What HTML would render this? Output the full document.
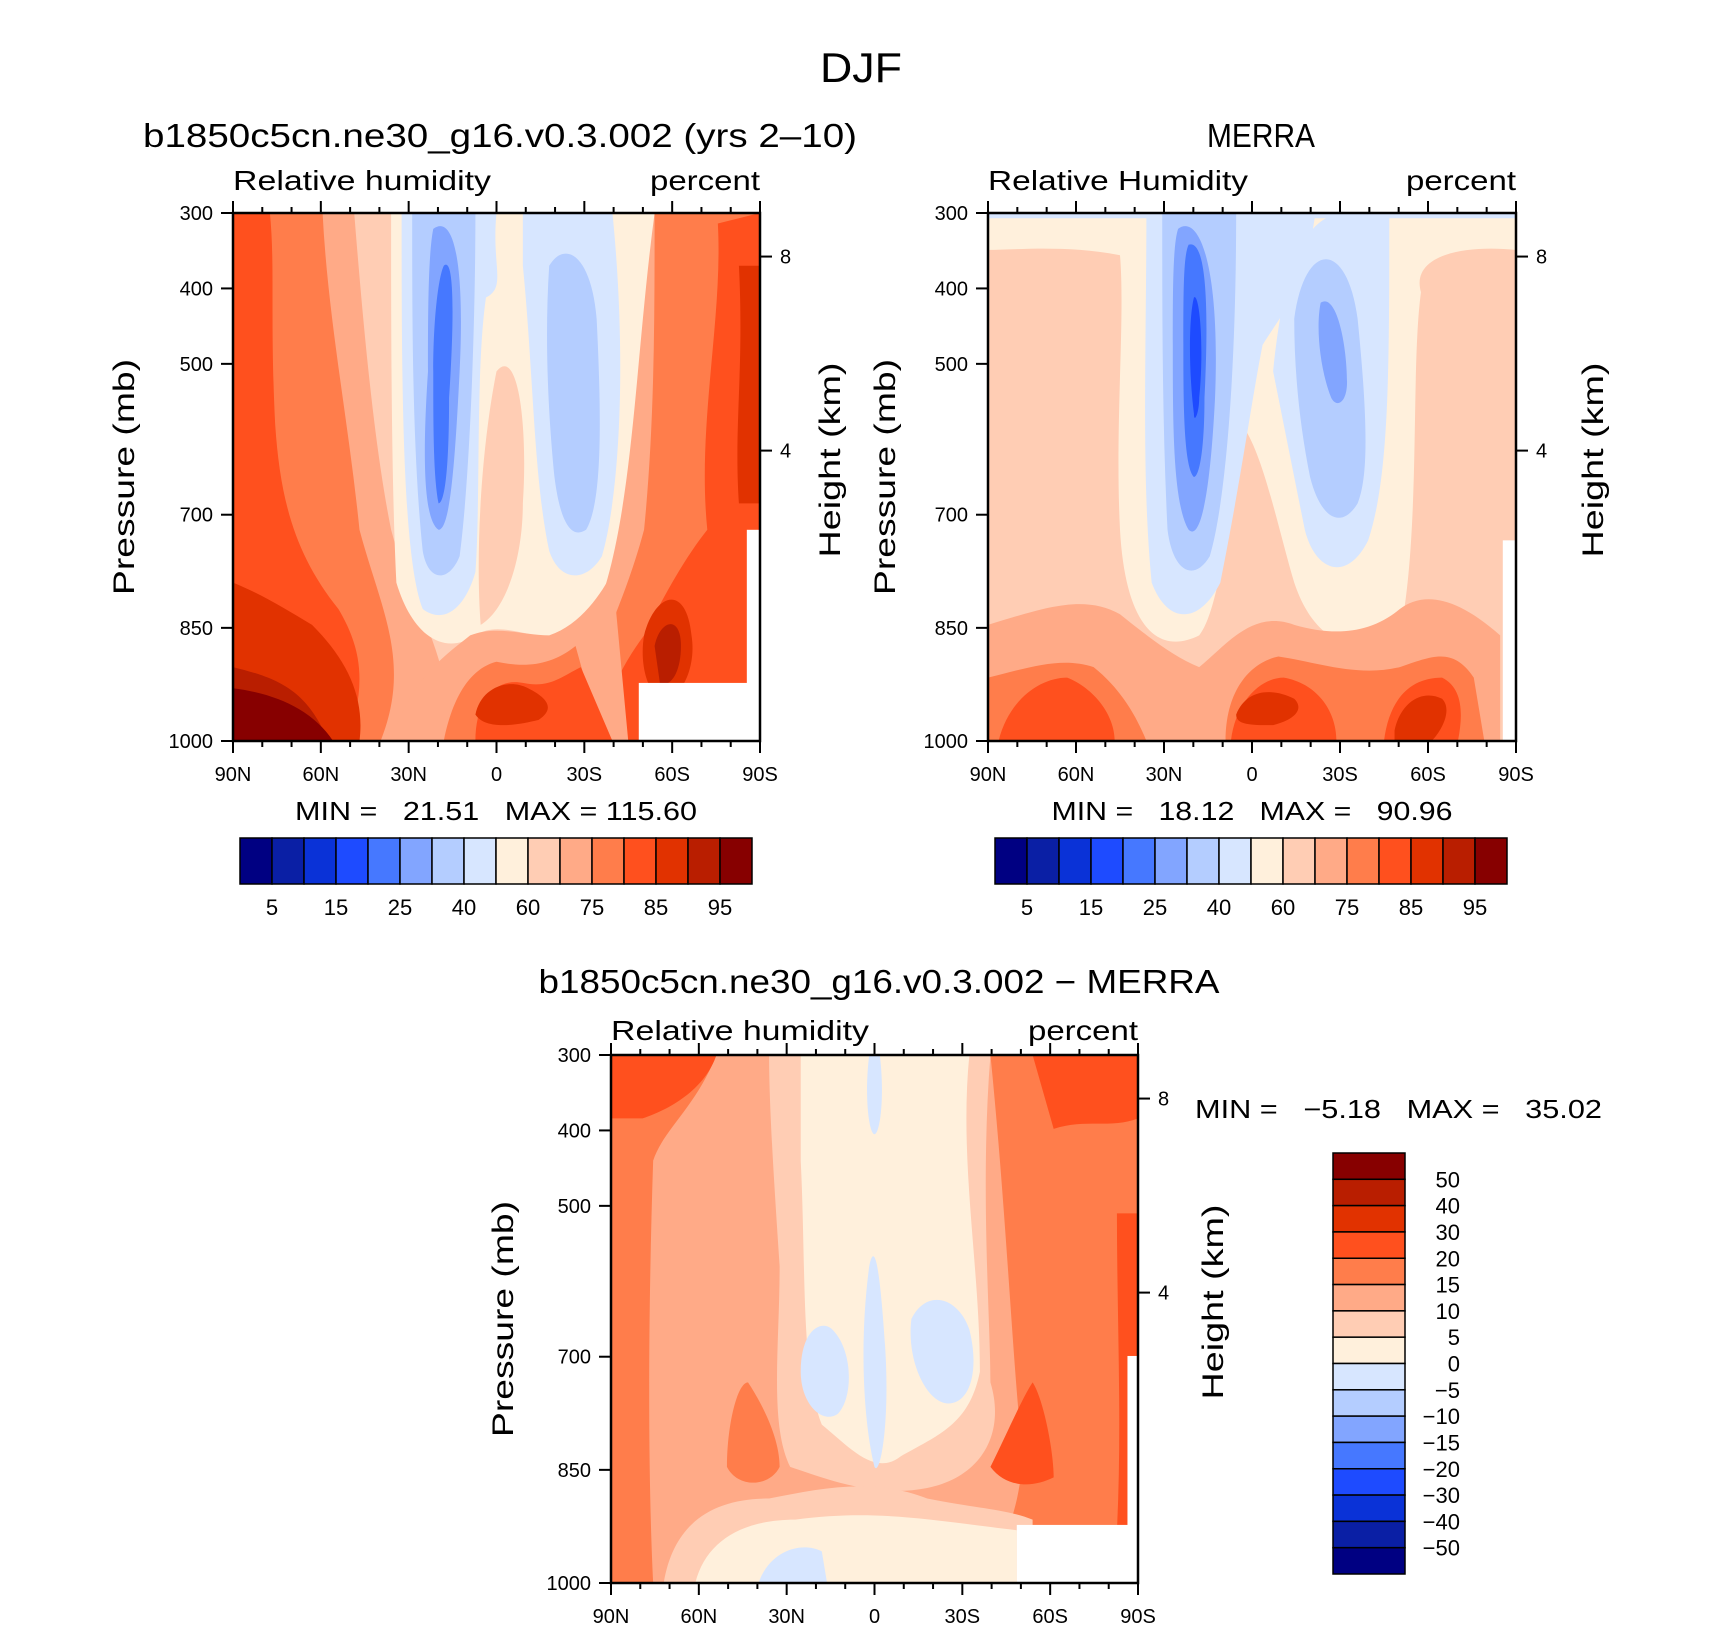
<!DOCTYPE html>
<html><head><meta charset="utf-8"><style>
html,body{margin:0;padding:0;background:#fff}
svg text{font-family:"Liberation Sans",sans-serif;fill:#000}
</style></head><body>
<svg id="root" xmlns="http://www.w3.org/2000/svg" width="1710" height="1631" viewBox="0 0 1710 1631">
<rect width="1710" height="1631" fill="#fff"/>
<text x="861" y="82" font-size="42" text-anchor="middle" textLength="82" lengthAdjust="spacingAndGlyphs">DJF</text>

<!-- Panel 1 -->
<text x="500" y="147" font-size="33" text-anchor="middle" textLength="714" lengthAdjust="spacingAndGlyphs">b1850c5cn.ne30_g16.v0.3.002 (yrs 2–10)</text>
<text x="233" y="190" font-size="28" textLength="258" lengthAdjust="spacingAndGlyphs">Relative humidity</text>
<text x="650" y="190" font-size="28" textLength="110" lengthAdjust="spacingAndGlyphs">percent</text>
<svg x="233" y="213" width="527" height="528" viewBox="0 0 100 100" preserveAspectRatio="none">
<rect width="100" height="100" fill="#ffcdb4"/>
<path fill="#ffaa87" d="M0,0 L23,0 C25,25 27,45 30,60 C34,75 40,80 42,100 L0,100Z"/>
<path fill="#ff7d4b" d="M0,0 L17,0 C18,20 22,40 24,60 C28,75 34,85 28,100 L0,100Z"/>
<path fill="#ff501e" d="M0,0 L7,0 C8,10 7,20 8,40 C9,55 12,65 20,75 C26,85 24,92 22,100 L0,100Z"/>
<path fill="#e13200" d="M0,70 C5,72 10,75 15,78 C22,85 25,92 24,100 L0,100Z"/>
<path fill="#b91e00" d="M0,86 C8,88 14,90 18,100 L0,100Z"/>
<path fill="#870000" d="M0,90 C8,91 15,94 19,100 L0,100Z"/>
<path fill="#ffaa87" d="M74,0 L100,0 L100,100 L60,100 C62,85 68,75 72,60 C75,40 75,20 74,0Z"/>
<path fill="#ff7d4b" d="M80,0 L100,0 L100,100 L64,100 C68,85 74,75 78,60 C80,40 80,20 80,0Z"/>
<path fill="#ff501e" d="M92,2 C93,20 88,40 90,60 C86,65 82,72 78,80 C72,88 70,95 70,100 L100,100 L100,0Z"/>
<path fill="#e13200" d="M96,10 L100,10 L100,55 L96,55 C95,40 97,30 96,10Z M78,80 C80,72 86,70 87,80 C88,86 85,92 82,92 C79,92 77,86 78,80Z"/>
<path fill="#b91e00" d="M80,82 C81,77 85,76 85,82 C85,87 83,90 81,89Z"/>
<path fill="#fff0dc" d="M30,0 L80,0 C76,30 76,60 68,78 C60,84 52,76 46,80 C40,84 34,80 31,70 C30,50 30,20 30,0Z"/>
<path fill="#ffcdb4" d="M50,30 C54,25 56,40 55,55 C55,65 52,75 47,78 C46,65 47,45 50,30Z"/>
<path fill="#d7e6ff" d="M32,0 L50,0 C49,10 52,14 48,16 C46,30 47,55 46,68 C44,75 40,78 36,75 C32,65 32,30 32,0Z M55,0 L72,0 C75,30 73,55 70,65 C67,70 62,70 60,64 C57,50 57,30 55,10Z"/>
<path fill="#b4cdff" d="M34,0 L46,0 C46,20 45,50 43,65 C41,70 37,70 36,64 C34,45 34,20 34,0Z M60,10 C63,5 68,8 69,20 C70,40 70,55 67,60 C64,62 62,58 61,50 C60,40 59,25 60,10Z"/>
<path fill="#82a5ff" d="M38,3 C42,0 44,10 43,30 C42,50 41,60 39,60 C36,58 36,45 37,30 C37,20 37,8 38,3Z"/>
<path fill="#4678ff" d="M40,10 C42,8 42,20 41,35 C41,50 40,55 39,55 C38,50 38,40 38,30 C38,20 39,12 40,10Z"/>
<path fill="#ffaa87" d="M30,100 C34,88 40,84 45,80 C50,78 55,80 60,80 C66,78 70,72 72,68 L75,100Z"/>
<path fill="#ff7d4b" d="M40,100 C42,90 46,86 50,85 C55,86 60,86 65,82 L70,100Z"/>
<path fill="#ff501e" d="M46,100 C46,92 50,88 55,89 C60,90 62,88 66,86 L72,100Z"/>
<path fill="#e13200" d="M46,95 C47,90 52,88 56,90 C60,92 61,94 58,96 C54,97 48,98 46,95Z"/>
<rect x="77" y="89" width="23" height="11" fill="#fff"/>
<rect x="97.5" y="60" width="2.5" height="40" fill="#fff"/>
</svg>

<!-- Panel 2 -->
<text x="1261" y="147" font-size="33" text-anchor="middle" textLength="108" lengthAdjust="spacingAndGlyphs">MERRA</text>
<text x="988" y="190" font-size="28" textLength="260" lengthAdjust="spacingAndGlyphs">Relative Humidity</text>
<text x="1406" y="190" font-size="28" textLength="110" lengthAdjust="spacingAndGlyphs">percent</text>
<svg x="988" y="213" width="528" height="528" viewBox="0 0 100 100" preserveAspectRatio="none">
<rect width="100" height="100" fill="#ffcdb4"/>
<path fill="#fff0dc" d="M0,0 L100,0 L100,7 C90,6 80,8 82,15 C80,30 82,60 78,80 C70,84 62,82 58,70 C55,60 52,45 48,40 C46,55 44,75 40,80 C32,84 26,78 25,60 C24,40 26,20 25,8 C15,6 5,7 0,7Z"/>
<path fill="#d7e6ff" d="M0,0 L100,0 L100,1 L0,1Z M30,0 L62,0 C60,15 55,20 52,25 C50,35 48,50 44,70 C40,78 34,78 31,70 C29,50 30,25 30,0Z M54,30 C56,10 60,0 68,0 L76,0 C76,30 76,50 72,62 C68,70 62,68 60,60 C58,50 56,40 54,30Z"/>
<path fill="#b4cdff" d="M33,0 L47,0 C47,30 45,55 42,65 C39,70 35,68 34,60 C33,40 33,20 33,0Z M58,20 C60,5 68,5 70,20 C72,40 72,50 70,55 C67,60 63,58 61,50 C59,40 58,30 58,20Z"/>
<path fill="#82a5ff" d="M36,3 C40,0 44,10 43,35 C42,55 40,62 38,60 C35,55 35,40 35,25 C35,15 35,6 36,3Z M63,17 C66,15 68,25 68,32 C68,36 66,37 65,35 C63,30 62,22 63,17Z"/>
<path fill="#4678ff" d="M38,6 C41,5 42,15 41,35 C41,45 40,50 39,50 C37,48 37,35 37,25 C37,15 37,8 38,6Z"/>
<path fill="#1e4bff" d="M39,16 C40,15 41,25 40,35 C40,38 39,40 39,38 C38,30 38,20 39,16Z"/>
<path fill="#ffaa87" d="M0,78 C10,75 18,72 25,76 C30,80 35,84 40,86 C45,82 50,75 58,78 C65,80 72,80 78,75 C82,72 88,72 97,80 L97,100 L0,100Z"/>
<path fill="#ff7d4b" d="M0,88 C8,86 14,84 20,86 C25,90 28,95 30,100 L0,100Z M45,100 C45,90 50,85 55,84 C62,85 70,88 78,86 C84,84 88,82 92,88 L94,100Z"/>
<path fill="#ff501e" d="M2,100 C4,92 10,88 15,88 C20,90 24,95 24,100Z M46,100 C47,92 52,88 56,88 C62,89 66,94 66,100Z M75,100 C76,92 80,88 86,88 C90,90 90,95 89,100Z"/>
<path fill="#e13200" d="M47,95 C49,90 54,90 58,92 C60,94 58,96 54,97 C50,97 47,97 47,95Z M77,98 C78,93 82,90 86,92 C88,94 86,98 84,100 L77,100Z"/>
<rect x="97.5" y="62" width="2.5" height="38" fill="#fff"/>
</svg>

<!-- Panel 3 -->
<text x="879" y="993" font-size="33" text-anchor="middle" textLength="681" lengthAdjust="spacingAndGlyphs">b1850c5cn.ne30_g16.v0.3.002 − MERRA</text>
<text x="611" y="1040" font-size="28" textLength="258" lengthAdjust="spacingAndGlyphs">Relative humidity</text>
<text x="1028" y="1040" font-size="28" textLength="110" lengthAdjust="spacingAndGlyphs">percent</text>
<svg x="611" y="1055" width="527" height="528" viewBox="0 0 100 100" preserveAspectRatio="none">
<rect width="100" height="100" fill="#ffaa87"/>
<path fill="#ff7d4b" d="M0,0 L20,0 C16,10 10,14 8,20 C7,50 7,80 8,100 L0,100Z M22,78 C22,70 24,62 26,62 C28,65 32,72 32,78 C30,82 24,82 22,78Z"/>
<path fill="#ff501e" d="M0,0 L20,0 C18,6 12,10 6,12 L0,12Z"/>
<path fill="#ffcdb4" d="M30,0 L72,0 C70,25 72,50 72,62 C75,72 70,80 60,82 C50,84 40,80 34,78 C30,70 32,55 32,40 C31,25 30,10 30,0Z"/>
<path fill="#fff0dc" d="M36,0 L68,0 C66,20 70,40 70,60 C68,70 62,72 55,76 C50,80 45,74 40,70 C36,60 37,40 36,20Z"/>
<path fill="#d7e6ff" d="M36,60 C36,52 40,50 42,52 C46,56 46,65 43,68 C40,70 36,66 36,60Z M57,50 C60,44 66,46 68,52 C70,60 68,66 64,66 C60,66 56,58 57,50Z M49,0 L51,0 C52,8 51,15 50,15 C49,15 48,8 49,0Z M49,40 C50,35 51,40 52,55 C53,70 51,80 50,78 C48,70 47,55 49,40Z"/>
<path fill="#ff7d4b" d="M72,0 L100,0 L100,100 L72,100 C75,90 78,85 78,75 C76,55 75,30 72,0Z"/>
<path fill="#ff501e" d="M80,0 L100,0 L100,12 C95,14 90,12 84,14Z M72,78 C75,72 78,65 80,62 C82,65 84,75 84,80 C80,82 75,82 72,78Z M96,30 L100,30 L100,90 L96,90 C97,70 96,50 96,30Z"/>
<path fill="#ffcdb4" d="M10,100 C12,88 20,84 30,84 C40,82 50,80 60,84 C70,86 75,86 80,88 L80,100Z"/>
<path fill="#fff0dc" d="M16,100 C18,92 25,88 35,88 C50,86 60,88 77,90 L77,100Z"/>
<path fill="#d7e6ff" d="M28,100 C30,94 36,92 40,94 L41,100Z"/>
<rect x="77" y="89" width="23" height="11" fill="#fff"/>
<rect x="98" y="57" width="2" height="43" fill="#fff"/>
</svg>
<text x="1195" y="1118" font-size="26" textLength="407" lengthAdjust="spacingAndGlyphs" xml:space="preserve">MIN =   −5.18   MAX =   35.02</text>
<text x="496" y="820" font-size="26" text-anchor="middle" textLength="402" lengthAdjust="spacingAndGlyphs" xml:space="preserve">MIN =   21.51   MAX = 115.60</text>
<text x="1252" y="820" font-size="26" text-anchor="middle" textLength="401" lengthAdjust="spacingAndGlyphs" xml:space="preserve">MIN =   18.12   MAX =   90.96</text>
<g id="axes"></g>
</svg>
<script>
const latLabels = ["90N","60N","30N","0","30S","60S","90S"];
const presLevels = [300,400,500,700,850,1000];
const heightTicks = [8,4];
const heightTickFrac = [0.0825,0.45];
const rhColors = ["#000082","#0a1fa5","#0a32d7","#1e4bff","#4678ff","#82a5ff","#b4cdff","#d7e6ff","#fff0dc","#ffcdb4","#ffaa87","#ff7d4b","#ff501e","#e13200","#b91e00","#870000"];
const rhLabels = ["5","15","25","40","60","75","85","95"];
const diffLabels = ["50","40","30","20","15","10","5","0","−5","−10","−15","−20","−30","−40","−50"];
const NS="http://www.w3.org/2000/svg";
const g=document.getElementById('axes');
function mk(tag,attrs,parent){const e=document.createElementNS(NS,tag);for(const k in attrs)e.setAttribute(k,attrs[k]);(parent||g).appendChild(e);return e;}
const panels=[{L:233,R:760,T:213,B:741,yt:124,ht:830,n:'model'},{L:988,R:1516,T:213,B:741,yt:885,ht:1593,n:'merra'},{L:611,R:1138,T:1055,B:1583,yt:503,ht:1213,n:'difference'}];
panels.forEach(p=>{
  const W=p.R-p.L,H=p.B-p.T;
  const xs=i=>p.L+W*i/(latLabels.length-1);
  const yp=v=>p.T+H*(v-300)/700;
  const fr=mk('rect',{x:p.L,y:p.T,width:W,height:H,fill:'none',stroke:'#000','stroke-width':2.5});
  
  
  for(let k=0;k<=18;k++){const x=p.L+W*k/18;const len=(k%3==0)?12:6;
    mk('line',{x1:x,x2:x,y1:p.B,y2:p.B+len,stroke:'#000','stroke-width':2});
    mk('line',{x1:x,x2:x,y1:p.T,y2:p.T-len,stroke:'#000','stroke-width':2});}
  latLabels.forEach((l,i)=>{const t=mk('text',{x:xs(i),y:p.B+40,'font-size':20,'text-anchor':'middle'});t.textContent=l;
    
    });
  presLevels.forEach(v=>{const y=yp(v);mk('line',{x1:p.L-12,x2:p.L,y1:y,y2:y,stroke:'#000','stroke-width':2});
    const t=mk('text',{x:p.L-20,y:y+7,'font-size':20,'text-anchor':'end'});t.textContent=v;
    
    });
  heightTicks.forEach((h,i)=>{const y=p.T+H*heightTickFrac[i];mk('line',{x1:p.R,x2:p.R+12,y1:y,y2:y,stroke:'#000','stroke-width':2});
    const t=mk('text',{x:p.R+20,y:y+7,'font-size':20});t.textContent=h;
    
    });
  const cy=(p.T+p.B)/2;
  const yt=mk('text',{x:p.yt,y:cy,'font-size':30,'text-anchor':'middle',textLength:236,lengthAdjust:'spacingAndGlyphs',transform:`rotate(-90 ${p.yt} ${cy})`,dy:10});yt.textContent='Pressure (mb)';
  
  
  const ht=mk('text',{x:p.ht,y:cy-17,'font-size':30,'text-anchor':'middle',textLength:195,lengthAdjust:'spacingAndGlyphs',transform:`rotate(-90 ${p.ht} ${cy-17})`,dy:10});ht.textContent='Height (km)';
  
  
});
[[240,'model'],[995,'merra']].forEach(([x0,n])=>{
  const w=512/rhColors.length;
  rhColors.forEach((c,i)=>{const r=mk('rect',{x:x0+i*w,y:838,width:w,height:46,fill:c,stroke:'#000','stroke-width':1.5});
    
    });
  rhLabels.forEach((l,i)=>{const t=mk('text',{x:x0+(2*i+1)*w,y:915,'font-size':22,'text-anchor':'middle'});t.textContent=l;
    
    });
});
{const h=421/rhColors.length;
 rhColors.slice().reverse().forEach((c,i)=>{const r=mk('rect',{x:1333,y:1153+i*h,width:72,height:h,fill:c,stroke:'#000','stroke-width':1.5});
   
   });
 diffLabels.forEach((l,i)=>{const t=mk('text',{x:1460,y:1153+(i+1)*h+8,'font-size':22,'text-anchor':'end'});t.textContent=l;
   
   });}
</script>
</body></html>
